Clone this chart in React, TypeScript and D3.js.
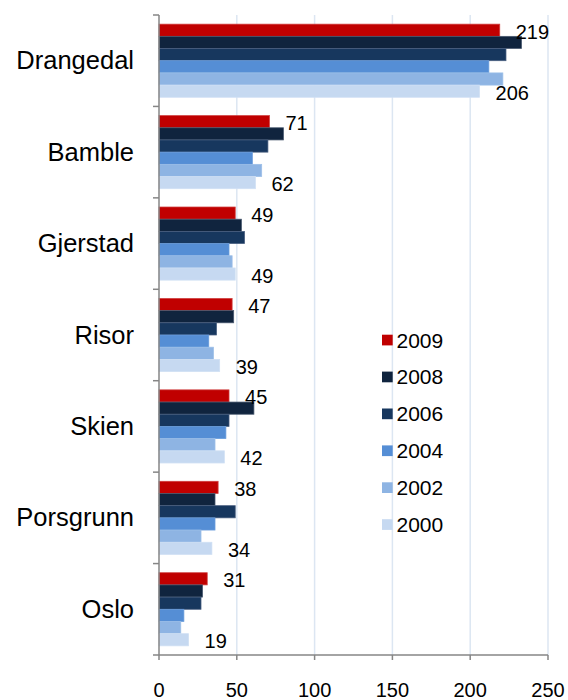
import React from "react";
import * as d3 from "d3";

const categories = ["Drangedal", "Bamble", "Gjerstad", "Risor", "Skien", "Porsgrunn", "Oslo"];
const seriesNames = ["2009", "2008", "2006", "2004", "2002", "2000"];
const v2009 = [219, 71, 49, 47, 45, 38, 31];
const v2008 = [233, 80, 53, 48, 61, 36, 28];
const v2006 = [223, 70, 55, 37, 45, 49, 27];
const v2004 = [212, 60, 45, 32, 43, 36, 16];
const v2002 = [221, 66, 47, 35, 36, 27, 14];
const v2000 = [206, 62, 49, 39, 42, 34, 19];
const xTicks = [0, 50, 100, 150, 200, 250];
const colors = ["#C00000", "#10243E", "#17375E", "#558ED5", "#8EB4E3", "#C6D9F1"];
const strokes = ["#d04040", "#4a5a70", "#4a5f80", "#6a9ddc", "#9cbfe8", "#d0e0f4"];
const labeledSeries = ["2009", "2000"];

const W = 568;
const H = 700;
const left = 159;
const right = 548;
const top = 15;
const bottom = 655;
const font = "'Liberation Sans', Arial, Helvetica, sans-serif";

export default function App() {
  const values = [v2009, v2008, v2006, v2004, v2002, v2000];
  const x = d3.scaleLinear().domain([0, 250]).range([left, right]);
  const y = d3.scaleBand<string>().domain(categories).range([top, bottom]).paddingInner(0.2).paddingOuter(0.1);
  const sub = d3.scaleBand<string>().domain(seriesNames).range([0, y.bandwidth()]).padding(0);
  const step = (bottom - top) / categories.length;
  const boundaries = d3.range(categories.length + 1).map((i) => top + i * step);
  const legendY = d3.scaleLinear().domain([0, 5]).range([340, 524.5]);

  return (
    <svg width={W} height={H} style={{ position: "absolute", left: 0, top: 0, background: "#fff" }} fontFamily={font}>
      <rect x={0} y={0} width={W} height={H} fill="#fff" />
      {xTicks.filter((t) => t > 0).map((t) => (
        <line key={"g" + t} x1={x(t)} x2={x(t)} y1={top} y2={bottom} stroke="#DCE6F2" strokeWidth={1.5} />
      ))}
      {categories.map((c, ci) =>
        seriesNames.map((s, si) => (
          <rect
            key={c + s}
            x={x(0)}
            y={(y(c) as number) + (sub(s) as number)}
            width={x(values[si][ci]) - x(0)}
            height={sub.bandwidth()}
            fill={colors[si]}
            stroke={strokes[si]}
            strokeWidth={0.75}
          />
        ))
      )}
      {categories.map((c, ci) =>
        seriesNames.map((s, si) =>
          labeledSeries.includes(s) ? (
            <text
              key={"l" + c + s}
              x={x(values[si][ci]) + 16}
              y={(y(c) as number) + (sub(s) as number) + sub.bandwidth() / 2 + 8.5}
              fontSize={20}
              fill="#000"
            >
              {values[si][ci]}
            </text>
          ) : null
        )
      )}
      <line x1={left} x2={left} y1={top} y2={bottom} stroke="#868686" strokeWidth={1.5} />
      <line x1={left} x2={right} y1={bottom} y2={bottom} stroke="#868686" strokeWidth={1.5} />
      {boundaries.map((b, i) => (
        <line key={"yt" + i} x1={left - 6} x2={left} y1={b} y2={b} stroke="#868686" strokeWidth={1.5} />
      ))}
      {xTicks.map((t) => (
        <g key={"xt" + t}>
          <line x1={x(t)} x2={x(t)} y1={bottom} y2={bottom + 5} stroke="#868686" strokeWidth={1.5} />
          <text x={x(t)} y={697} textAnchor="middle" fontSize={20} fill="#000">
            {t}
          </text>
        </g>
      ))}
      {categories.map((c) => (
        <text key={"c" + c} x={134} y={(y(c) as number) + y.bandwidth() / 2 + 8.5} textAnchor="end" fontSize={25.5} fill="#000">
          {c}
        </text>
      ))}
      {seriesNames.map((s, si) => (
        <g key={"lg" + s}>
          <rect x={382} y={legendY(si) - 5.3} width={10.7} height={10.7} fill={colors[si]} />
          <text x={396.5} y={legendY(si) + 7.5} fontSize={21} fill="#000">
            {s}
          </text>
        </g>
      ))}
    </svg>
  );
}
